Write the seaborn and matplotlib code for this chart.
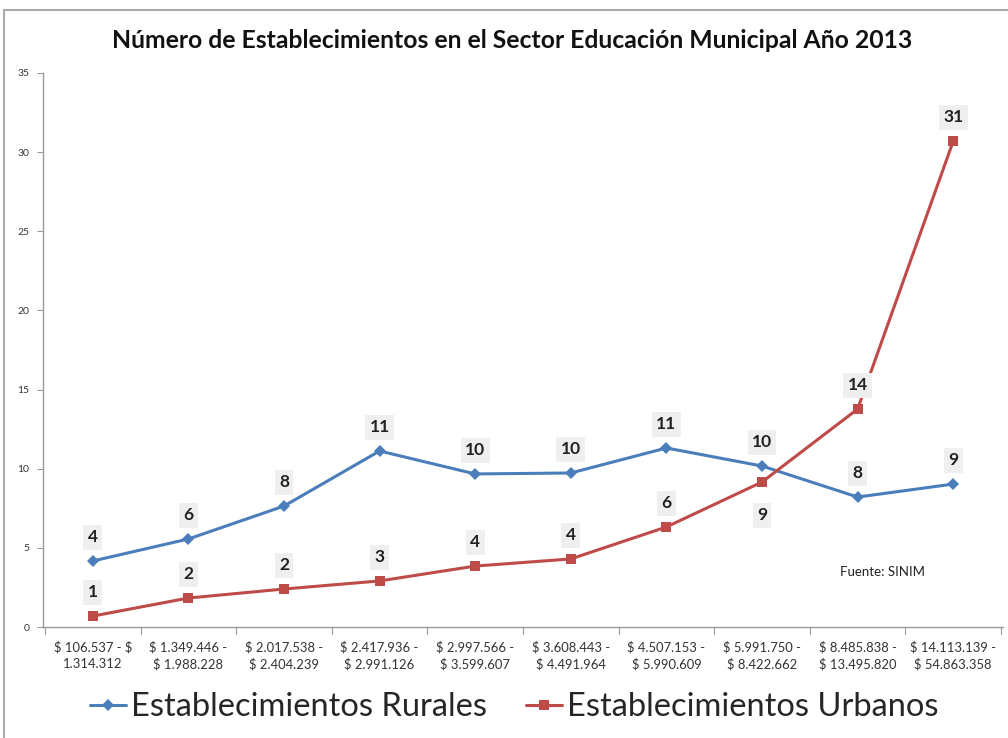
import matplotlib
matplotlib.use("Agg")
import matplotlib.pyplot as plt
import seaborn as sns
import pandas as pd
from matplotlib.patches import Rectangle

categories = [
    "\\$ 106.537 - \\$\n1.314.312",
    "\\$ 1.349.446 -\n\\$ 1.988.228",
    "\\$ 2.017.538 -\n\\$ 2.404.239",
    "\\$ 2.417.936 -\n\\$ 2.991.126",
    "\\$ 2.997.566 -\n\\$ 3.599.607",
    "\\$ 3.608.443 -\n\\$ 4.491.964",
    "\\$ 4.507.153 -\n\\$ 5.990.609",
    "\\$ 5.991.750 -\n\\$ 8.422.662",
    "\\$ 8.485.838 -\n\\$ 13.495.820",
    "\\$ 14.113.139 -\n\\$ 54.863.358",
]
rurales = [4.17, 5.56, 7.64, 11.12, 9.67, 9.73, 11.31, 10.17, 8.21, 9.03]
urbanos = [0.69, 1.83, 2.40, 2.91, 3.85, 4.30, 6.32, 9.16, 13.77, 30.7]
series_names = ["Establecimientos Rurales", "Establecimientos Urbanos"]

sns.set_style("white")
plt.rcParams["font.family"] = ["Lato", "DejaVu Sans"]

df = pd.DataFrame({
    "x": list(range(len(categories))) * 2,
    "valor": rurales + urbanos,
    "serie": [series_names[0]] * len(rurales) + [series_names[1]] * len(urbanos),
})

blue = "#4A7EBB"
red = "#BE4B48"

fig = plt.figure(figsize=(10.08, 7.38), dpi=100)
ax = fig.add_axes([0.0427, 0.1504, 0.9523, 0.7507])

sns.lineplot(data=df, x="x", y="valor", hue="serie", style="serie",
             markers={series_names[0]: "D", series_names[1]: "s"},
             dashes=False, palette={series_names[0]: blue, series_names[1]: red},
             linewidth=2.2, markersize=6.5, markeredgewidth=0, ax=ax)

ax.set_xlim(-0.52, len(categories) - 0.48)
ax.set_ylim(0, 35)
ax.set_yticks(range(0, 36, 5))
ax.set_xticks(range(len(categories)))
ax.set_xticklabels(categories, fontsize=9.4, color="#333333", linespacing=1.45)
ax.tick_params(axis="y", labelsize=7.5, colors="#333333", length=4, width=0.8,
               direction="out", left=True, pad=6)
ax.tick_params(axis="x", length=0, pad=10)
for xm in [i + 0.5 for i in range(-1, len(categories))]:
    ax.plot([xm, xm], [0, -0.45], color="#999999", lw=0.8, clip_on=False)
ax.tick_params(axis="y", color="#999999")
ax.set_xlabel("")
ax.set_ylabel("")
for s in ["top", "right"]:
    ax.spines[s].set_visible(False)
for s in ["left", "bottom"]:
    ax.spines[s].set_color("#999999")
    ax.spines[s].set_linewidth(1.0)

box = dict(boxstyle="square,pad=0.25", facecolor="#EFEFEF", edgecolor="none")
for i, v in enumerate(rurales):
    ax.annotate(f"{round(v):d}", (i, v), xytext=(0, 17), textcoords="offset points",
                ha="center", va="center", fontsize=12.5, fontweight="bold",
                color="#222222", bbox=box)
for i, v in enumerate(urbanos):
    off = -24 if i == 7 else 17
    ax.annotate(f"{round(v):d}", (i, v), xytext=(0, off), textcoords="offset points",
                ha="center", va="center", fontsize=12.5, fontweight="bold",
                color="#222222", bbox=box)

ax.text(0.83, 0.10, "Fuente: SINIM", transform=ax.transAxes, fontsize=9.5,
        color="#222222", ha="left", va="center")

fig.text(0.508, 0.945, "Número de Establecimientos en el Sector Educación Municipal Año 2013",
         ha="center", va="center", fontsize=17.8, fontweight="bold", color="#111111")

handles, labels = ax.get_legend_handles_labels()
ax.legend(handles, labels, loc="center", bbox_to_anchor=(0.51, 0.042),
          bbox_transform=fig.transFigure, ncol=2, frameon=False, fontsize=23.5,
          handlelength=1.1, handletextpad=0.15, columnspacing=1.2)

fig.add_artist(Rectangle((4 / 1008, -0.1), 1.2, 1 - 10 / 738 + 0.1,
                         transform=fig.transFigure, fill=False,
                         edgecolor="#AAAAAA", linewidth=1.5))

fig.savefig("out.png", dpi=100)
